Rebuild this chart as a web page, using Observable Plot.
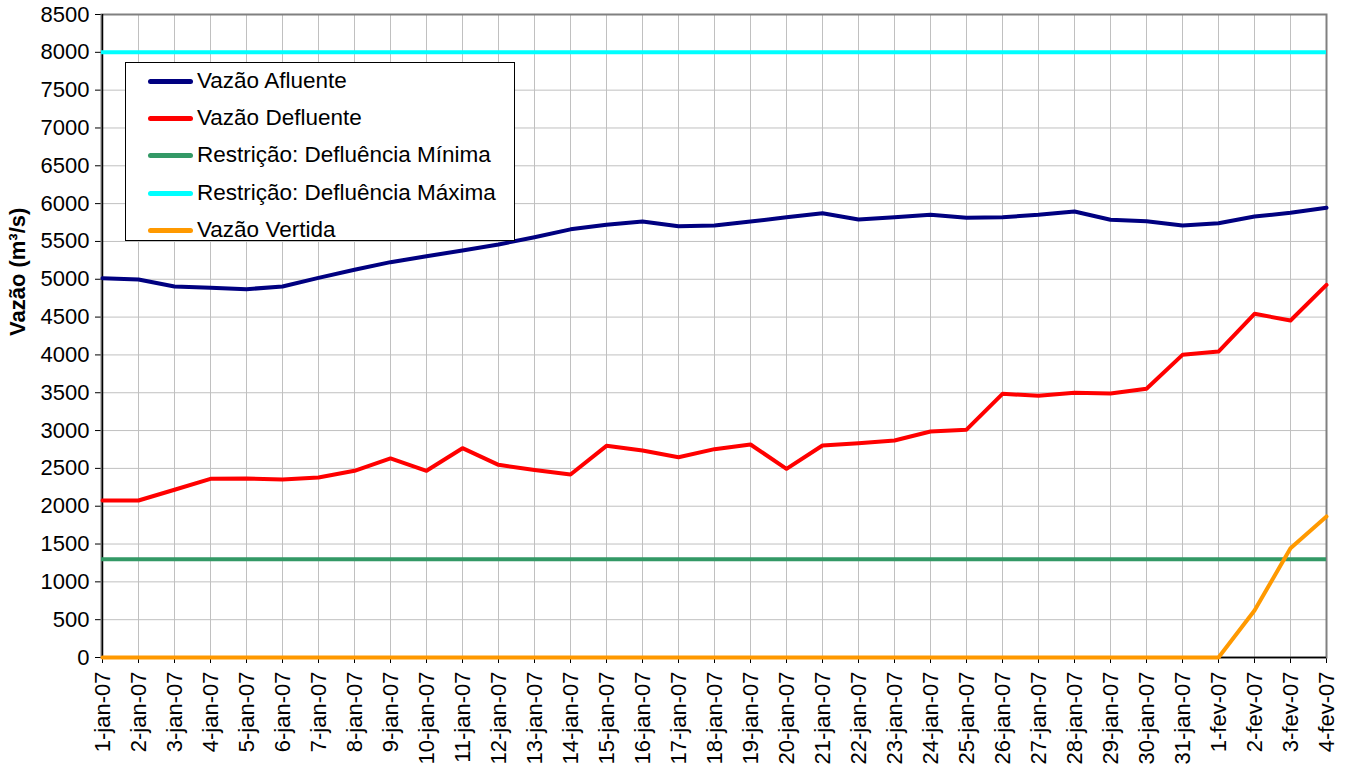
<!DOCTYPE html>
<html>
<head>
<meta charset="utf-8">
<script src="https://cdn.jsdelivr.net/npm/d3@7"></script>
<script src="https://cdn.jsdelivr.net/npm/@observablehq/plot@0.6"></script>
<style>
  html, body { margin: 0; padding: 0; background: #fff; }
  #wrap { position: relative; width: 1345px; height: 772px; font-family: "Liberation Sans", Arial, sans-serif; }
  #legend { position: absolute; left: 125px; top: 62px; width: 390px; height: 179px; background: #fff; border: 1px solid #000; box-sizing: border-box; }
  .row { position: absolute; left: 0; height: 30px; display: flex; align-items: center; font-size: 22.5px; color: #000; white-space: nowrap; }
  .sw { display: inline-block; width: 45px; height: 5px; border-radius: 2.5px; margin-left: 22px; margin-right: 4px; }
</style>
</head>
<body>
<div id="wrap"></div>
<script>
const dias = ["1-jan-07","2-jan-07","3-jan-07","4-jan-07","5-jan-07","6-jan-07","7-jan-07","8-jan-07","9-jan-07","10-jan-07","11-jan-07","12-jan-07","13-jan-07","14-jan-07","15-jan-07","16-jan-07","17-jan-07","18-jan-07","19-jan-07","20-jan-07","21-jan-07","22-jan-07","23-jan-07","24-jan-07","25-jan-07","26-jan-07","27-jan-07","28-jan-07","29-jan-07","30-jan-07","31-jan-07","1-fev-07","2-fev-07","3-fev-07","4-fev-07"];
const vazaoAfluente = [5015,4997,4904,4887,4869,4904,5019,5125,5226,5305,5380,5460,5555,5660,5720,5765,5700,5710,5763,5820,5873,5790,5820,5852,5812,5820,5852,5896,5786,5767,5710,5741,5830,5878,5945];
const vazaoDefluente = [2075,2075,2217,2362,2366,2353,2379,2468,2631,2468,2767,2547,2478,2419,2798,2736,2648,2754,2816,2494,2802,2833,2869,2988,3012,3486,3459,3499,3490,3552,4001,4045,4543,4455,4925];
const vazaoVertida = [0,0,0,0,0,0,0,0,0,0,0,0,0,0,0,0,0,0,0,0,0,0,0,0,0,0,0,0,0,0,0,0,621,1445,1864];
const defluenciaMinima = 1300;
const defluenciaMaxima = 8000;
const yTicks = [0,500,1000,1500,2000,2500,3000,3500,4000,4500,5000,5500,6000,6500,7000,7500,8000,8500];

const series = [
  {name: "Vazão Afluente", color: "#000080"},
  {name: "Vazão Defluente", color: "#ff0000"},
  {name: "Restrição: Defluência Mínima", color: "#339966"},
  {name: "Restrição: Defluência Máxima", color: "#00ffff"},
  {name: "Vazão Vertida", color: "#ff9900"}
];

const rows = (vals) => dias.map((d, i) => ({dia: d, v: vals[i]}));

const chart = Plot.plot({
  width: 1345,
  height: 772,
  marginLeft: 101,
  marginRight: 19,
  marginTop: 14,
  marginBottom: 115,
  style: {fontFamily: "'Liberation Sans', Arial, sans-serif", fontSize: "22px", color: "#000", background: "#fff"},
  x: {type: "point", domain: dias, padding: 0, tickRotate: -90, tickSize: 6, tickPadding: 8, label: null},
  y: {domain: [0, 8500], ticks: yTicks, tickFormat: d => String(d), tickSize: 6, tickPadding: 6, label: null},
  marks: [
    Plot.ruleX(dias, {stroke: "#c0c0c0", strokeWidth: 1}),
    Plot.ruleY(yTicks, {stroke: "#c0c0c0", strokeWidth: 1}),
    Plot.frame({stroke: "#808080", strokeWidth: 2}),
    Plot.ruleY([0], {stroke: "#000", strokeWidth: 1.5}),
    Plot.ruleX([dias[0]], {stroke: "#000", strokeWidth: 1.5}),
    Plot.line(rows(vazaoAfluente), {x: "dia", y: "v", stroke: series[0].color, strokeWidth: 4, strokeLinejoin: "round"}),
    Plot.line(rows(vazaoDefluente), {x: "dia", y: "v", stroke: series[1].color, strokeWidth: 4, strokeLinejoin: "round"}),
    Plot.ruleY([defluenciaMinima], {stroke: series[2].color, strokeWidth: 4}),
    Plot.ruleY([defluenciaMaxima], {stroke: series[3].color, strokeWidth: 4}),
    Plot.line(rows(vazaoVertida), {x: "dia", y: "v", stroke: series[4].color, strokeWidth: 4, strokeLinejoin: "round"}),
    Plot.text(["Vazão (m³/s)"], {frameAnchor: "left", dx: -84, rotate: -90, fontWeight: "bold", fontSize: 22, fill: "#000"})
  ]
});

const wrap = document.getElementById("wrap");
wrap.appendChild(chart);

const legend = document.createElement("div");
legend.id = "legend";
const tops = [3, 40, 77, 115, 152];
series.forEach((s, i) => {
  const r = document.createElement("div");
  r.className = "row";
  r.style.top = tops[i] + "px";
  const sw = document.createElement("span");
  sw.className = "sw";
  sw.style.background = s.color;
  const t = document.createElement("span");
  t.textContent = s.name;
  r.appendChild(sw);
  r.appendChild(t);
  legend.appendChild(r);
});
wrap.appendChild(legend);
</script>
</body>
</html>
